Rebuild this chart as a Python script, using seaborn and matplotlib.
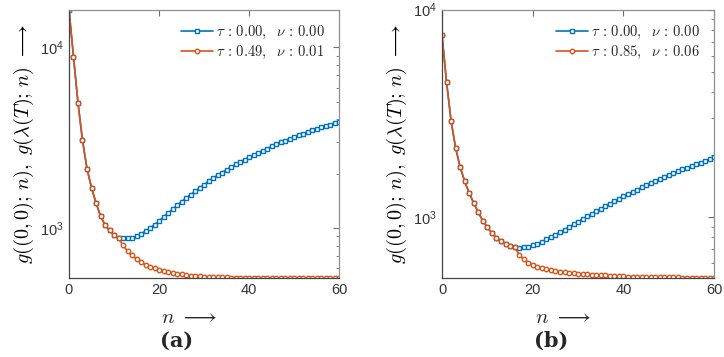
import matplotlib
matplotlib.use('Agg')
import matplotlib.pyplot as plt
import numpy as np
import pandas as pd
import seaborn as sns

# data, n = 0..60
n = list(range(61))

# panel (a)
a_blue = [16200, 8880, 4930, 3060, 2130, 1670, 1380, 1166, 1040, 971,
          918, 880, 880, 877, 884, 903, 930, 962, 1000, 1043,
          1094, 1151, 1211, 1269, 1336, 1400, 1467, 1530, 1597, 1667,
          1738, 1815, 1893, 1960, 2028, 2105, 2180, 2250, 2322, 2395,
          2466, 2535, 2606, 2680, 2755, 2833, 2911, 2980, 3050, 3123,
          3197, 3267, 3337, 3410, 3481, 3548, 3616, 3680, 3741, 3807, 3873]
a_orange = [16200, 8880, 4930, 3060, 2130, 1670, 1380, 1166, 1040, 971,
            918, 880, 802, 745, 705, 673, 647, 626, 611, 598,
            588, 578, 570, 563, 558, 553, 549, 545, 542, 540,
            538, 536, 535, 534, 533, 533, 532, 532, 531, 531,
            531, 530, 530, 530, 530, 529, 529, 529, 529, 529,
            529, 529, 528, 528, 528, 528, 528, 528, 528, 528, 528]

# panel (b)
b_blue = [7520, 4480, 2905, 2153, 1743, 1486, 1305, 1168, 1053, 960,
          892, 837, 795, 766, 741, 727, 719, 712, 714, 719,
          730, 744, 760, 780, 801, 823, 846, 870, 895, 922,
          950, 978, 1007, 1037, 1069, 1099, 1130, 1162, 1194, 1226,
          1258, 1291, 1325, 1357, 1390, 1424, 1458, 1494, 1530, 1565,
          1600, 1633, 1667, 1698, 1730, 1762, 1795, 1828, 1862, 1903, 1947]
b_orange = [7520, 4480, 2905, 2153, 1743, 1486, 1305, 1168, 1053, 960,
            892, 837, 795, 766, 741, 727, 719, 658, 627, 604,
            589, 577, 567, 560, 554, 549, 545, 541, 538, 535,
            533, 531, 529, 527, 526, 524, 523, 522, 520, 519,
            518, 517, 517, 516, 515, 515, 514, 514, 513, 513,
            512, 512, 512, 511, 511, 511, 511, 510, 510, 510, 510]

legend_a = [r'$\tau\,:\,0.00,\ \ \nu\,:\,0.00$', r'$\tau\,:\,0.49,\ \ \nu\,:\,0.01$']
legend_b = [r'$\tau\,:\,0.00,\ \ \nu\,:\,0.00$', r'$\tau\,:\,0.85,\ \ \nu\,:\,0.06$']

sns.set_style('white')
plt.rcParams['font.family'] = ['Liberation Sans', 'DejaVu Sans']
plt.rcParams['mathtext.fontset'] = 'cm'

blue = '#0072BD'
orange = '#D95319'

fig = plt.figure(figsize=(7.24, 3.57), dpi=100)
ax1 = fig.add_axes([0.0953, 0.221, 0.373, 0.752])
ax2 = fig.add_axes([0.6105, 0.221, 0.376, 0.752])


def panel(ax, yb, yo, labels, ylim, tag):
    df = pd.DataFrame({'n': n, 'blue': yb, 'orange': yo})
    sns.lineplot(data=df, x='n', y='blue', ax=ax, color=blue, lw=1.2,
                 marker='s', markersize=3.3, markerfacecolor='white',
                 markeredgecolor=blue, markeredgewidth=1.0, label=labels[0])
    sns.lineplot(data=df, x='n', y='orange', ax=ax, color=orange, lw=1.2,
                 marker='o', markersize=3.2, markerfacecolor='white',
                 markeredgecolor=orange, markeredgewidth=1.0, label=labels[1])
    ax.set_yscale('log')
    ax.set_xlim(0, 60)
    ax.set_ylim(*ylim)
    ax.set_xticks([0, 20, 40, 60])
    ax.tick_params(which='both', direction='in', top=True, right=True,
                   colors='#707070', labelcolor='#333333', labelsize=10.5)
    ax.tick_params(which='major', length=4)
    ax.tick_params(which='minor', length=2.5)
    for side, s in ax.spines.items():
        s.set_color('#444444' if side in ('left', 'bottom') else '#909090')
        s.set_linewidth(0.9)
    ax.set_xlabel('')
    ax.set_ylabel(r'$g((0,0);\,n),\ g(\lambda(T);\,n)\ \longrightarrow$',
                  fontsize=14.5, color='black', labelpad=3)
    ax.text(0.445, -0.147, r'$n\ \longrightarrow$', transform=ax.transAxes,
            ha='center', va='center', fontsize=15)
    ax.text(0.40, -0.232, tag, transform=ax.transAxes, ha='center',
            va='center', fontsize=15, fontweight='bold', family='DejaVu Serif')
    ax.legend(loc='upper right', frameon=False, fontsize=10.5,
              handlelength=2.2, handletextpad=0.2, borderaxespad=0.6,
              labelspacing=0.2)


panel(ax1, a_blue, a_orange, legend_a, (528, 16200), '(a)')
panel(ax2, b_blue, b_orange, legend_b, (508, 10000), '(b)')

fig.savefig('out.png', dpi=100)
